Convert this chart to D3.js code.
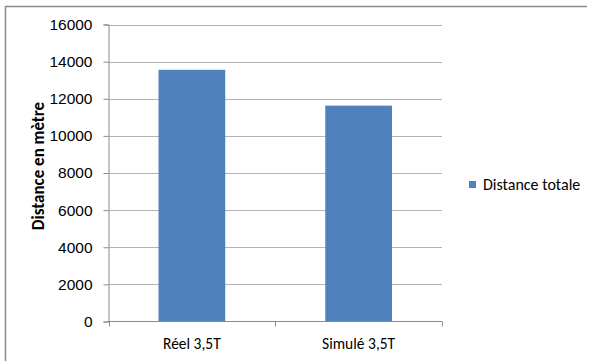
<!DOCTYPE html>
<html>
<head>
<meta charset="utf-8">
<script src="https://cdn.jsdelivr.net/npm/d3@7"></script>
<style>
  body { margin: 0; background: #fff; }
  svg { display: block; font-family: Carlito, "Liberation Sans", Arial, sans-serif; }
</style>
</head>
<body>
<div id="chart"></div>
<script>
// values
const categories = ["Réel 3,5T", "Simulé 3,5T"];
const distanceTotale = [13560, 11630];
const yTicks = [0, 2000, 4000, 6000, 8000, 10000, 12000, 14000, 16000];
const seriesName = "Distance totale";
const yTitle = "Distance en mètre";

const W = 593, H = 361;
const plot = {left: 108.5, right: 442, top: 24.5, bottom: 321.5};

const svg = d3.select("#chart").append("svg")
    .attr("width", W)
    .attr("height", H);

// outer frame (only top and left visible in the picture)
svg.append("path")
    .attr("d", `M5.5,${H} V6.5 H587`)
    .attr("fill", "none")
    .attr("stroke", "#8a8a8a")
    .attr("stroke-width", 1.5);

const x = d3.scaleBand()
    .domain(categories)
    .range([plot.left, plot.right])
    .paddingInner(0.6)
    .paddingOuter(0.3);

const y = d3.scaleLinear()
    .domain([0, 16000])
    .range([plot.bottom, plot.top]);

// gridlines
svg.append("g")
    .selectAll("line")
    .data(yTicks.filter(d => d > 0))
    .enter()
    .append("line")
    .attr("x1", plot.left)
    .attr("x2", plot.right)
    .attr("y1", d => Math.round(y(d)) + 0.5)
    .attr("y2", d => Math.round(y(d)) + 0.5)
    .attr("stroke", "#b4b4b4");

// bars
svg.append("g")
    .selectAll("rect")
    .data(categories)
    .enter()
    .append("rect")
    .attr("x", d => x(d))
    .attr("width", x.bandwidth())
    .attr("y", (d, i) => y(distanceTotale[i]))
    .attr("height", (d, i) => y(0) - y(distanceTotale[i]))
    .attr("fill", "#4f81bd");

// y axis
const yAxis = svg.append("g")
    .attr("transform", `translate(${plot.left},0)`)
    .call(d3.axisLeft(y).tickValues(yTicks).tickSize(5).tickPadding(11).tickFormat(d3.format("d")));
yAxis.select(".domain").attr("stroke", "#8a8a8a");
yAxis.selectAll(".tick line").attr("stroke", "#8a8a8a");
yAxis.selectAll("text")
    .attr("fill", "#000")
    .style("font-size", "15.5px");

// x axis with ticks at category boundaries
const xAxis = svg.append("g")
    .attr("transform", `translate(0,${plot.bottom})`);
xAxis.append("line")
    .attr("x1", plot.left).attr("x2", plot.right)
    .attr("stroke", "#8a8a8a");
xAxis.selectAll(".bound")
    .data([0, 1, 2])
    .enter()
    .append("line")
    .attr("class", "bound")
    .attr("x1", i => Math.round(plot.left + i * x.step()) + 0.5)
    .attr("x2", i => Math.round(plot.left + i * x.step()) + 0.5)
    .attr("y1", 0).attr("y2", 5)
    .attr("stroke", "#8a8a8a");
xAxis.selectAll("text")
    .data(categories)
    .enter()
    .append("text")
    .attr("x", d => x(d) + x.bandwidth() / 2)
    .attr("y", 27)
    .attr("text-anchor", "middle")
    .style("font-size", "15.5px")
    .text(d => d);

// y title
svg.append("text")
    .attr("transform", "translate(44,166) rotate(-90)")
    .attr("text-anchor", "middle")
    .style("font-size", "17px")
    .style("font-weight", "bold")
    .text(yTitle);

// legend
const legend = svg.append("g").attr("transform", "translate(469,181)");
legend.append("rect")
    .attr("width", 7).attr("height", 7)
    .attr("fill", "#4f81bd");
legend.append("text")
    .attr("x", 14).attr("y", 9)
    .style("font-size", "16px")
    .text(seriesName);
</script>
</body>
</html>
